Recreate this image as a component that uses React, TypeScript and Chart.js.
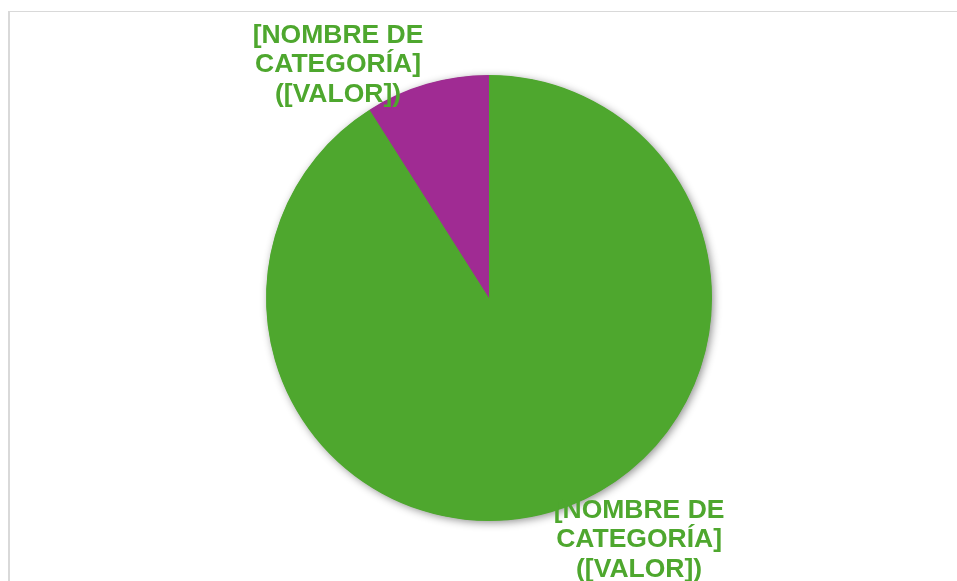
import React, { useEffect, useRef } from "react";
import { Chart, registerables } from "chart.js";

Chart.register(...registerables);

const categories = ["[NOMBRE DE CATEGORÍA]", "[NOMBRE DE CATEGORÍA]"];
const values = [91, 9];
const colors = ["#4EA72E", "#A02B93"];
const labelLines = [
  ["[NOMBRE DE", "CATEGORÍA]", "([VALOR])"],
  ["[NOMBRE DE", "CATEGORÍA]", "([VALOR])"],
];
// label centre offsets, in units of the pie radius
const labelOffsets = [
  [0.673, 1.075],
  [-0.677, -1.055],
];

const shadowPlugin = {
  id: "pieShadow",
  beforeDatasetsDraw(chart: any) {
    const meta = chart.getDatasetMeta(0);
    const arc = meta.data[0];
    if (!arc) return;
    const { x, y, outerRadius } = arc.getProps(["x", "y", "outerRadius"], true);
    const ctx = chart.ctx;
    ctx.save();
    ctx.shadowColor = "rgba(0,0,0,0.45)";
    ctx.shadowBlur = 9;
    ctx.shadowOffsetX = 2;
    ctx.shadowOffsetY = 2;
    ctx.fillStyle = "#4EA72E";
    ctx.beginPath();
    ctx.arc(x, y, outerRadius - 0.5, 0, Math.PI * 2);
    ctx.fill();
    ctx.restore();
  },
};

const labelPlugin = {
  id: "pieLabels",
  afterDatasetsDraw(chart: any) {
    const meta = chart.getDatasetMeta(0);
    const ctx = chart.ctx;
    const fs = 26.5;
    const lh = 29.5;
    ctx.save();
    ctx.font = `bold ${fs}px "Liberation Sans", Arial, sans-serif`;
    ctx.fillStyle = "#4EA72E";
    ctx.textAlign = "center";
    ctx.textBaseline = "alphabetic";
    meta.data.forEach((arc: any, i: number) => {
      const { x, y, outerRadius } = arc.getProps(["x", "y", "outerRadius"], true);
      const cx = x + labelOffsets[i][0] * outerRadius;
      const cy = y + labelOffsets[i][1] * outerRadius;
      const lines = labelLines[i];
      lines.forEach((t, j) => {
        const capCenter = cy + (j - (lines.length - 1) / 2) * lh;
        ctx.fillText(t, cx, capCenter + 0.358 * fs);
      });
    });
    ctx.restore();
  },
};

export default function App() {
  const ref = useRef<HTMLCanvasElement>(null);
  useEffect(() => {
    document.body.style.overflow = "hidden";
    const chart = new Chart(ref.current!, {
      type: "pie",
      data: {
        labels: categories,
        datasets: [
          {
            data: values,
            backgroundColor: colors,
            borderWidth: 0,
          },
        ],
      },
      options: {
        responsive: false,
        animation: false,
        layout: { padding: { top: 67, bottom: 60, left: 13, right: 0 } },
        plugins: {
          legend: { display: false },
          tooltip: { enabled: false },
        },
      },
      plugins: [shadowPlugin, labelPlugin],
    });
    return () => chart.destroy();
  }, []);
  return (
    <div style={{ position: "fixed", left: 8, top: 8, right: 0, bottom: 0, overflow: "hidden" }}>
      <div
        style={{
          position: "absolute",
          left: 0,
          top: 3,
          width: 1100,
          height: 800,
          borderLeft: "2px solid #d9d9d9",
          borderTop: "1px solid #d9d9d9",
          boxSizing: "border-box",
        }}
      />
      <canvas ref={ref} width={949} height={573} style={{ position: "absolute", left: 0, top: 0 }} />
    </div>
  );
}
